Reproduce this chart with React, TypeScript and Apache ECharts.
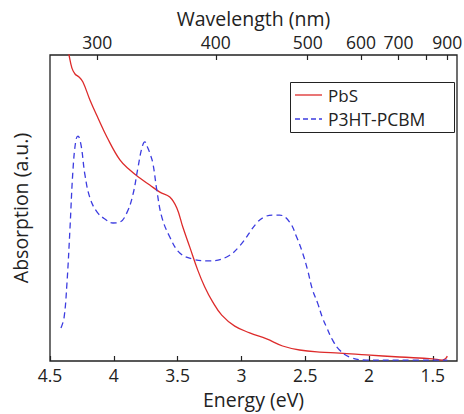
import React, { useEffect, useRef } from "react";
import * as echarts from "echarts";

// Energy (eV) vs absorption (a.u.)
const pbsEnergy = [4.375, 4.351, 4.328, 4.304, 4.273, 4.242, 4.187, 4.124, 4.054, 3.952, 3.874, 3.796, 3.718, 3.639, 3.561, 3.506, 3.459, 3.405, 3.342, 3.287, 3.225, 3.154, 3.052, 2.935, 2.802, 2.677, 2.544, 2.387, 2.231, 2.02, 1.761, 1.503, 1.425, 1.401, 1.386];
const pbsAbs = [1.049, 1.0, 0.957, 0.938, 0.928, 0.912, 0.853, 0.794, 0.732, 0.657, 0.624, 0.598, 0.575, 0.552, 0.536, 0.5, 0.438, 0.373, 0.297, 0.242, 0.193, 0.15, 0.114, 0.092, 0.072, 0.049, 0.036, 0.029, 0.026, 0.02, 0.013, 0.007, 0.003, 0.007, 0.016];

const p3htEnergy = [4.414, 4.39, 4.367, 4.344, 4.32, 4.297, 4.281, 4.257, 4.226, 4.187, 4.132, 4.07, 4.007, 3.952, 3.898, 3.851, 3.811, 3.78, 3.757, 3.733, 3.718, 3.694, 3.663, 3.624, 3.561, 3.483, 3.381, 3.248, 3.115, 3.013, 2.88, 2.818, 2.755, 2.7, 2.622, 2.567, 2.52, 2.481, 2.442, 2.403, 2.364, 2.333, 2.286, 2.231, 2.153, 2.02, 1.761, 1.386];
const p3htAbs = [0.108, 0.141, 0.255, 0.428, 0.624, 0.722, 0.735, 0.706, 0.608, 0.533, 0.487, 0.464, 0.451, 0.454, 0.484, 0.542, 0.631, 0.696, 0.716, 0.696, 0.68, 0.647, 0.559, 0.471, 0.405, 0.353, 0.333, 0.327, 0.34, 0.376, 0.451, 0.471, 0.477, 0.477, 0.454, 0.405, 0.353, 0.297, 0.232, 0.19, 0.141, 0.111, 0.069, 0.036, 0.013, 0.003, 0.003, 0.003];

// Bottom axis (energy) ticks
const energyTicks = [4.5, 4, 3.5, 3, 2.5, 2, 1.5];
// Top axis (wavelength) ticks and their energy positions
const wavelengthTickEnergy = [4.13, 3.2, 2.48, 2.063, 1.769, 1.55, 1.386];
const wavelengthTickLabels = ["300", "400", "500", "600", "700", "", "900"];

const seriesNames = ["PbS", "P3HT-PCBM"];
const seriesColors = ["#dd2b2b", "#3c3ce0"];

const FONT = "'Open Sans', 'DejaVu Sans', sans-serif";
const TXT = "#222";

export default function App() {
  const ref = useRef<HTMLDivElement>(null);
  useEffect(() => {
    if (!ref.current) return;
    const chart = echarts.init(ref.current, null, { renderer: "svg" });
    const pbs = pbsEnergy.map((e, i) => [e, pbsAbs[i]]);
    const p3ht = p3htEnergy.map((e, i) => [e, p3htAbs[i]]);
    chart.setOption({
      animation: false,
      backgroundColor: "#fff",
      textStyle: { fontFamily: FONT },
      grid: {
        left: 50,
        right: 7,
        top: 55,
        bottom: 53,
        containLabel: false,
        outerBoundsMode: "none",
        show: true,
        borderColor: "#222",
        borderWidth: 1.3,
        backgroundColor: "transparent",
      },
      graphic: [
        {
          type: "rect",
          left: 290,
          top: 82,
          z: 10,
          shape: { width: 164, height: 50 },
          style: { fill: "#fff", stroke: "#222", lineWidth: 1 },
        },
        {
          type: "line",
          z: 11,
          shape: { x1: 295, y1: 95, x2: 322, y2: 95 },
          style: { stroke: seriesColors[0], lineWidth: 1.3 },
        },
        {
          type: "line",
          z: 11,
          shape: { x1: 295, y1: 119, x2: 322, y2: 119 },
          style: { stroke: seriesColors[1], lineWidth: 1.3, lineDash: [5, 3] },
        },
        {
          type: "text",
          z: 11,
          x: 328,
          y: 95,
          style: { text: seriesNames[0], font: `17px ${FONT}`, fill: TXT, verticalAlign: "middle" },
        },
        {
          type: "text",
          z: 11,
          x: 328,
          y: 119,
          style: { text: seriesNames[1], font: `17.5px ${FONT}`, fill: TXT, verticalAlign: "middle" },
        },
      ],
      xAxis: [
        {
          type: "value",
          inverse: true,
          min: 1.31,
          max: 4.5,
          position: "bottom",
          name: "Energy (eV)",
          nameLocation: "middle",
          nameGap: 28,
          nameTextStyle: { fontFamily: FONT, fontSize: 19.5, color: TXT },
          axisLine: { show: false },
          splitLine: { show: false },
          axisTick: {
            show: true,
            inside: true,
            length: 5,
            customValues: energyTicks,
            lineStyle: { color: "#222", width: 1.2 },
          },
          axisLabel: {
            show: true,
            margin: 5,
            customValues: energyTicks,
            fontFamily: FONT,
            fontSize: 17.5,
            color: TXT,
            formatter: (v: number) => String(v),
          },
        },
        {
          type: "value",
          inverse: true,
          min: 1.31,
          max: 4.5,
          position: "top",
          name: "Wavelength (nm)",
          nameLocation: "middle",
          nameGap: 26,
          nameTextStyle: { fontFamily: FONT, fontSize: 19.5, color: TXT },
          axisLine: { show: false },
          splitLine: { show: false },
          axisTick: {
            show: true,
            inside: true,
            length: 5,
            customValues: wavelengthTickEnergy,
            lineStyle: { color: "#222", width: 1.2 },
          },
          axisLabel: {
            show: true,
            margin: 4,
            customValues: wavelengthTickEnergy.filter((_, i) => wavelengthTickLabels[i] !== ""),
            fontFamily: FONT,
            fontSize: 17.5,
            color: TXT,
            formatter: (v: number) => {
              const i = wavelengthTickEnergy.findIndex((e) => Math.abs(e - v) < 1e-6);
              return i >= 0 ? wavelengthTickLabels[i] : "";
            },
          },
        },
      ],
      yAxis: {
        type: "value",
        min: 0,
        max: 1,
        name: "Absorption (a.u.)",
        nameLocation: "middle",
        nameGap: 20,
        nameTextStyle: { fontFamily: FONT, fontSize: 19.5, color: TXT },
        axisLine: { show: false },
        axisTick: { show: false },
        axisLabel: { show: false },
        splitLine: { show: false },
      },
      series: [
        {
          name: seriesNames[0],
          type: "line",
          data: pbs,
          xAxisIndex: 0,
          showSymbol: false,
          symbol: "none",
          smooth: 0.4,
          clip: true,
          lineStyle: { color: seriesColors[0], width: 1.3 },
          itemStyle: { color: seriesColors[0] },
        },
        {
          name: seriesNames[1],
          type: "line",
          data: p3ht,
          xAxisIndex: 0,
          showSymbol: false,
          symbol: "none",
          smooth: 0.4,
          clip: true,
          lineStyle: { color: seriesColors[1], width: 1.3, type: [6, 4] },
          itemStyle: { color: seriesColors[1] },
        },
      ],
    });
    return () => chart.dispose();
  }, []);
  return (
    <div
      ref={ref}
      style={{ position: "fixed", left: 0, top: 0, width: 464, height: 414 }}
    />
  );
}
